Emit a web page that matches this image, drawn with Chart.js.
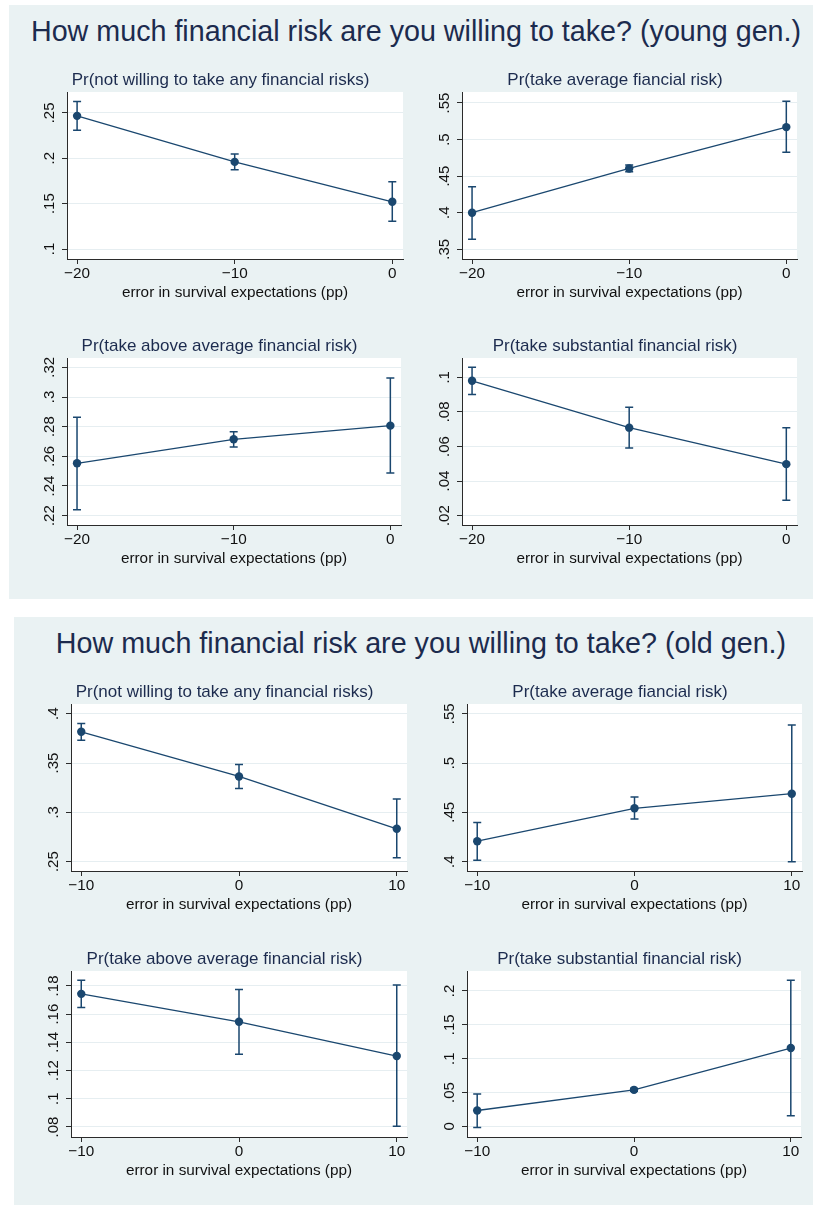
<!DOCTYPE html>
<html>
<head>
<meta charset="utf-8">
<script src="https://cdn.jsdelivr.net/npm/chart.js@4.4.1/dist/chart.umd.min.js"></script>
<style>
  body { margin: 0; background: #fff; width: 813px; height: 1205px; position: relative; overflow: hidden;
         font-family: "Liberation Sans", Arial, sans-serif; }
  .panel { position: absolute; background: #eaf2f3; }
  .head { position: absolute; font-size: 28.7px; line-height: 28px; color: #1c2b4e; white-space: nowrap;
          transform: translateX(-50%); }
  canvas { position: absolute; }
</style>
</head>
<body>
<div class="panel" style="left:9px;top:5px;width:804px;height:594px"></div>
<div class="panel" style="left:14px;top:617px;width:799px;height:588px"></div>
<div class="head" id="head0" style="left:416px;top:17px"></div>
<div class="head" id="head1" style="left:421px;top:629px"></div>

<script>
// --- data ---
const panelTitles = [
  'How much financial risk are you willing to take? (young gen.)',
  'How much financial risk are you willing to take? (old gen.)'
];
const subTitles = [
  'Pr(not willing to take any financial risks)',
  'Pr(take average fiancial risk)',
  'Pr(take above average financial risk)',
  'Pr(take substantial financial risk)'
];
const xTitle = 'error in survival expectations (pp)';

const xYoung = [-20, -10, 0];
const xOld = [-10, 0, 10];

// young generation
const youngNoneMean = [0.2467, 0.196, 0.152];
const youngNoneLo   = [0.2308, 0.1874, 0.1305];
const youngNoneHi   = [0.2625, 0.2047, 0.174];
const youngAvgMean  = [0.400, 0.4605, 0.517];
const youngAvgLo    = [0.3637, 0.456, 0.4826];
const youngAvgHi    = [0.4353, 0.4651, 0.5523];
const youngAboveMean = [0.2553, 0.2715, 0.2807];
const youngAboveLo   = [0.224, 0.2663, 0.2488];
const youngAboveHi   = [0.2863, 0.2766, 0.3128];
const youngSubstMean = [0.098, 0.0709, 0.0498];
const youngSubstLo   = [0.0901, 0.0592, 0.0289];
const youngSubstHi   = [0.1058, 0.0827, 0.0709];

// old generation
const oldNoneMean = [0.3817, 0.3364, 0.2833];
const oldNoneLo   = [0.3732, 0.3242, 0.254];
const oldNoneHi   = [0.3901, 0.3486, 0.3135];
const oldAvgMean  = [0.4207, 0.4541, 0.4689];
const oldAvgLo    = [0.4014, 0.4432, 0.400];
const oldAvgHi    = [0.4398, 0.4656, 0.5386];
const oldAboveMean = [0.1744, 0.1546, 0.1303];
const oldAboveLo   = [0.1647, 0.1315, 0.0805];
const oldAboveHi   = [0.184, 0.1775, 0.1807];
const oldSubstMean = [0.0235, 0.054, 0.1157];
const oldSubstLo   = [-0.0015, 0.052, 0.0157];
const oldSubstHi   = [0.048, 0.0559, 0.2157];

// y tick values
const youngNoneTicks  = [0.1, 0.15, 0.2, 0.25];
const youngAvgTicks   = [0.35, 0.4, 0.45, 0.5, 0.55];
const youngAboveTicks = [0.22, 0.24, 0.26, 0.28, 0.3, 0.32];
const youngSubstTicks = [0.02, 0.04, 0.06, 0.08, 0.1];
const oldNoneTicks  = [0.25, 0.3, 0.35, 0.4];
const oldAvgTicks   = [0.4, 0.45, 0.5, 0.55];
const oldAboveTicks = [0.08, 0.1, 0.12, 0.14, 0.16, 0.18];
const oldSubstTicks = [0, 0.05, 0.1, 0.15, 0.2];

// axis extents
const youngNoneRange  = [0.089, 0.273];
const youngAvgRange   = [0.3367, 0.565];
const youngAboveRange = [0.2137, 0.3263];
const youngSubstRange = [0.0146, 0.1112];
const oldNoneRange  = [0.2405, 0.4099];
const oldAvgRange   = [0.3905, 0.5599];
const oldAboveRange = [0.0729, 0.1906];
const oldSubstRange = [-0.0156, 0.2294];
const xYoungRange = [-20.64, 0.68];
const xOldRange = [-10.65, 10.65];

// --- drawing ---
const NAVY = '#1a476f';
const TEXT_NAVY = '#1c2b4e';
const AXIS = '#2b2b2b';
const GRID = '#e6eef1';
const FONT = '"Liberation Sans", Arial, sans-serif';

document.getElementById('head0').textContent = panelTitles[0];
document.getElementById('head1').textContent = panelTitles[1];

const fmtY = v => v === 0 ? '0' : String(+v.toFixed(4)).replace(/^0\./, '.').replace(/^-0\./, '-.');
const fmtX = v => v < 0 ? '\u2212' + Math.abs(v) : String(v);

const plotBg = {
  id: 'plotBg',
  beforeDraw(chart) {
    const a = chart.chartArea, c = chart.ctx;
    c.save();
    c.fillStyle = '#fff';
    c.fillRect(a.left, a.top, a.right - a.left, a.bottom - a.top);
    c.restore();
  }
};

const ciBars = {
  id: 'ciBars',
  beforeDatasetsDraw(chart, args, opts) {
    const sx = chart.scales.x, sy = chart.scales.y, c = chart.ctx;
    c.save();
    c.strokeStyle = NAVY;
    c.lineWidth = 1.5;
    opts.xs.forEach((xv, i) => {
      const px = sx.getPixelForValue(xv);
      const p1 = sy.getPixelForValue(opts.lo[i]);
      const p2 = sy.getPixelForValue(opts.hi[i]);
      c.beginPath();
      c.moveTo(px, p1); c.lineTo(px, p2);
      c.moveTo(px - 4, p1); c.lineTo(px + 4, p1);
      c.moveTo(px - 4, p2); c.lineTo(px + 4, p2);
      c.stroke();
    });
    c.restore();
  }
};

// Stata style y labels, turned to read upwards
const yLabels = {
  id: 'yLabels',
  afterDraw(chart) {
    const s = chart.scales.y, c = chart.ctx;
    c.save();
    c.font = '15px ' + FONT;
    c.fillStyle = '#111';
    c.textAlign = 'center';
    c.textBaseline = 'alphabetic';
    s.ticks.forEach(t => {
      const py = s.getPixelForValue(t.value);
      c.save();
      c.translate(s.right - 13.5, py);
      c.rotate(-Math.PI / 2);
      c.fillText(fmtY(t.value), 0, 0);
      c.restore();
    });
    c.restore();
  }
};

// plot regions (left, top, right, bottom) in page pixels
const panels = [
  { box: [67, 92, 403, 259],   title: subTitles[0], xs: xYoung, xr: xYoungRange, mean: youngNoneMean,  lo: youngNoneLo,  hi: youngNoneHi,  ticks: youngNoneTicks,  yr: youngNoneRange },
  { box: [462, 92, 797, 259],  title: subTitles[1], xs: xYoung, xr: xYoungRange, mean: youngAvgMean,   lo: youngAvgLo,   hi: youngAvgHi,   ticks: youngAvgTicks,   yr: youngAvgRange },
  { box: [67, 358, 401, 525],  title: subTitles[2], xs: xYoung, xr: xYoungRange, mean: youngAboveMean, lo: youngAboveLo, hi: youngAboveHi, ticks: youngAboveTicks, yr: youngAboveRange },
  { box: [462, 358, 797, 525], title: subTitles[3], xs: xYoung, xr: xYoungRange, mean: youngSubstMean, lo: youngSubstLo, hi: youngSubstHi, ticks: youngSubstTicks, yr: youngSubstRange },
  { box: [71, 704, 407, 871],  title: subTitles[0], xs: xOld, xr: xOldRange, mean: oldNoneMean,  lo: oldNoneLo,  hi: oldNoneHi,  ticks: oldNoneTicks,  yr: oldNoneRange },
  { box: [467, 704, 802, 871], title: subTitles[1], xs: xOld, xr: xOldRange, mean: oldAvgMean,   lo: oldAvgLo,   hi: oldAvgHi,   ticks: oldAvgTicks,   yr: oldAvgRange },
  { box: [71, 971, 407, 1137], title: subTitles[2], xs: xOld, xr: xOldRange, mean: oldAboveMean, lo: oldAboveLo, hi: oldAboveHi, ticks: oldAboveTicks, yr: oldAboveRange },
  { box: [467, 971, 801, 1137], title: subTitles[3], xs: xOld, xr: xOldRange, mean: oldSubstMean, lo: oldSubstLo, hi: oldSubstHi, ticks: oldSubstTicks, yr: oldSubstRange }
];

const Y_W = 29, X_H = 42, TITLE_H = 24, PAD_R = 6, PAD_B = 2;

panels.forEach(p => {
  const [L, T, R, B] = p.box;
  const cv = document.createElement('canvas');
  const w = (R - L) + Y_W + PAD_R;
  const h = TITLE_H + (B - T) + X_H + PAD_B;
  cv.width = w; cv.height = h;
  cv.style.left = (L - Y_W) + 'px';
  cv.style.top = (T - TITLE_H) + 'px';
  cv.style.width = w + 'px';
  cv.style.height = h + 'px';
  document.body.appendChild(cv);

  new Chart(cv, {
    type: 'line',
    data: {
      datasets: [{
        data: p.xs.map((v, i) => ({ x: v, y: p.mean[i] })),
        borderColor: NAVY,
        backgroundColor: NAVY,
        borderWidth: 1.3,
        pointRadius: 4.2,
        pointBorderWidth: 0,
        pointBackgroundColor: NAVY,
        tension: 0
      }]
    },
    options: {
      responsive: false,
      animation: false,
      devicePixelRatio: 1,
      layout: { padding: { left: 0, right: PAD_R, top: 0, bottom: PAD_B } },
      plugins: {
        legend: { display: false },
        tooltip: { enabled: false },
        title: {
          display: true,
          text: p.title,
          color: TEXT_NAVY,
          font: { family: FONT, size: 17, weight: 'normal', lineHeight: '20px' },
          padding: { top: 2, bottom: 2 }
        },
        ciBars: { xs: p.xs, lo: p.lo, hi: p.hi }
      },
      scales: {
        x: {
          type: 'linear',
          min: p.xr[0], max: p.xr[1],
          afterBuildTicks: s => { s.ticks = p.xs.map(v => ({ value: v })); },
          afterFit: s => { s.height = X_H; },
          grid: { drawOnChartArea: false, drawTicks: true, tickLength: 5, tickColor: AXIS, tickWidth: 1 },
          border: { display: true, color: AXIS, width: 1 },
          ticks: { color: '#111', font: { family: FONT, size: 15.3 }, padding: 1, maxRotation: 0, autoSkip: false, callback: fmtX },
          title: { display: true, text: xTitle, color: '#111', font: { family: FONT, size: 15.3, lineHeight: '17px' }, padding: 0 }
        },
        y: {
          type: 'linear',
          min: p.yr[0], max: p.yr[1],
          afterBuildTicks: s => { s.ticks = p.ticks.map(v => ({ value: v })); },
          afterFit: s => { s.width = Y_W; },
          grid: { color: GRID, lineWidth: 1, drawTicks: true, tickLength: 5, tickColor: AXIS },
          border: { display: true, color: AXIS, width: 1 },
          ticks: { display: false }
        }
      }
    },
    plugins: [plotBg, ciBars, yLabels]
  });
});
</script>
</body>
</html>
